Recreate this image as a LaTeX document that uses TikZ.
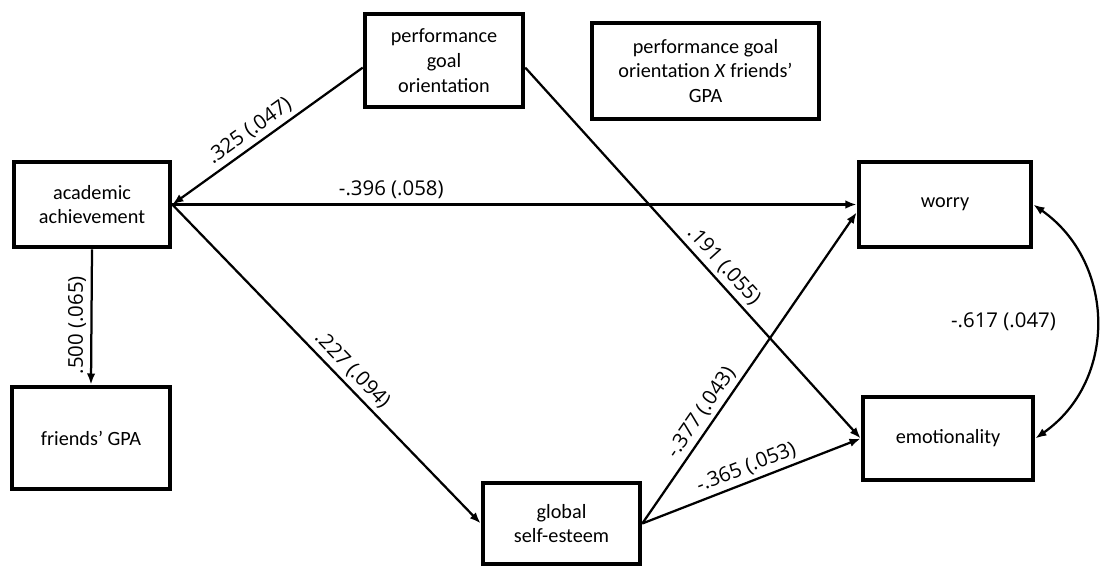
\documentclass[tikz,border=0pt]{standalone}
\usepackage{fontspec}
\setmainfont{Carlito}
\newfontfamily\labelfont{Open Sans}
\usetikzlibrary{arrows.meta}

\begin{document}
\begin{tikzpicture}[x=0.025cm, y=-0.025cm,
	varbox/.style={draw, line width=3.2pt, align=center, inner sep=0pt, font=\fontsize{14.4}{17.6}\selectfont},
	eff/.style={line width=1.6pt},
	tip/.tip={Latex[length=8pt, width=6pt]},
	coef/.style={font=\labelfont\fontsize{14.5}{17}\selectfont, inner sep=3pt}]

\useasboundingbox (0,0) rectangle (1108,568);

% variables
\node[varbox, minimum width=3.95cm, minimum height=2.325cm] (perf) at (444,60.5) {performance\\goal\\orientation};
\node[varbox, minimum width=5.675cm, minimum height=2.4cm] (inter) at (705.5,71) {performance goal\\orientation \textit{X} friends’\\GPA};
\node[varbox, minimum width=3.9cm, minimum height=2.125cm] (acad) at (92,204.5) {academic\\achievement};
\node[varbox, minimum width=4.3cm, minimum height=2.125cm] (worry) at (945,204.5) {worry};
\node[varbox, minimum width=3.95cm, minimum height=2.55cm] (friends) at (91,438) {friends’ GPA};
\node[varbox, minimum width=3.925cm, minimum height=2.025cm] (global) at (561.5,523.5) {global\\self-esteem};
\node[varbox, minimum width=4.25cm, minimum height=2.075cm] (emo) at (948,438.5) {emotionality};

% paths
\draw[eff, tip-] (acad.east) -- node[coef, sloped, above, pos=0.45] {.325 (.047)} (perf.185);
\draw[eff, -tip] (acad.east) -- node[coef, above, pos=0.32] {-.396 (.058)} (worry.west);
\draw[eff, -tip] (acad.south) -- node[coef, pos=0.56, rotate=90, anchor=south] {.500 (.065)} (friends.north);
\draw[eff, -tip] (acad.east) -- node[coef, sloped, above, pos=0.55] {.227 (.094)} (global.west);
\draw[eff, -tip] (perf.355) -- node[coef, sloped, above, pos=0.56] {.191 (.055)} (emo.west);
\draw[eff, -tip] (global.east) -- node[coef, sloped, above, pos=0.33] {-.377 (.043)} (worry.185);
\draw[eff, -tip] (global.east) -- node[coef, sloped, above, pos=0.5] {-.365 (.053)} (emo.west);
\draw[eff, tip-tip] (worry.east) to[out=-35, in=35, looseness=1.1] node[coef, pos=0.5, left=0.875cm] {-.617 (.047)} (emo.east);
\end{tikzpicture}
\end{document}
